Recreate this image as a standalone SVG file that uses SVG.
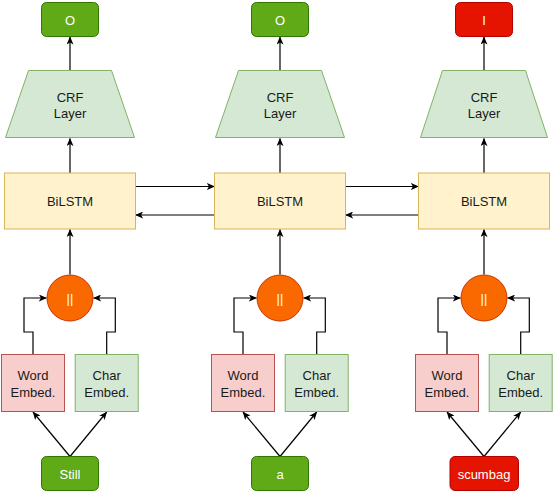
<svg xmlns="http://www.w3.org/2000/svg" width="554" height="492" viewBox="0 0 554 492">
<defs>
<marker id="arr" viewBox="0 0 8 7" markerWidth="8" markerHeight="7" refX="7.6" refY="3.5" orient="auto" markerUnits="userSpaceOnUse">
<path d="M0,0 L8,3.5 L0,7 L2,3.5 z" fill="#000"/>
</marker>
<style>
text{font-family:"Liberation Sans",Arial,Helvetica,sans-serif;font-size:13px;text-anchor:middle;fill:#1a1a1a}
.outg{fill:#60a917;stroke:#2d7600}
.outr{fill:#e51400;stroke:#b20000}
.wt{fill:#ffffff}
.crf{fill:#d5e8d4;stroke:#82b366}
.lstm{fill:#fff2cc;stroke:#d6b656}
.cat{fill:#fa6800;stroke:#c73500}
.word{fill:#f8cecc;stroke:#b85450}
.char{fill:#d5e8d4;stroke:#82b366}
.c{fill:none;stroke:#000;stroke-width:1.2;marker-end:url(#arr)}
</style>
</defs>
<g id="connectors">
<!-- column 1 -->
<path class="c" d="M70,70 L70,37"/>
<path class="c" d="M70,173 L70,138.5"/>
<path class="c" d="M70,274.5 L70,229.5"/>
<path class="c" d="M33,354.5 L33,332 L24,332 L24,298 L46.5,298"/>
<path class="c" d="M106.7,354.5 L106.7,332 L115.3,332 L115.3,298 L93.5,298"/>
<path class="c" d="M70,456.5 L33,412"/>
<path class="c" d="M70,456.5 L106.7,412"/>
<!-- column 2 -->
<path class="c" d="M280,70 L280,37"/>
<path class="c" d="M280,173 L280,138.5"/>
<path class="c" d="M280,274.5 L280,229.5"/>
<path class="c" d="M243,354.5 L243,332 L234,332 L234,298 L256.5,298"/>
<path class="c" d="M316.7,354.5 L316.7,332 L325.3,332 L325.3,298 L303.5,298"/>
<path class="c" d="M280,456.5 L243,412"/>
<path class="c" d="M280,456.5 L316.7,412"/>
<!-- column 3 -->
<path class="c" d="M484,70 L484,37"/>
<path class="c" d="M484,173 L484,138.5"/>
<path class="c" d="M484,274.5 L484,229.5"/>
<path class="c" d="M447,354.5 L447,332 L438,332 L438,298 L460.5,298"/>
<path class="c" d="M520.7,354.5 L520.7,332 L529.3,332 L529.3,298 L507.5,298"/>
<path class="c" d="M484,456.5 L447,412"/>
<path class="c" d="M484,456.5 L520.7,412"/>
<!-- BiLSTM links -->
<path class="c" d="M135.5,186.5 L214.5,186.5"/>
<path class="c" d="M214.5,215 L135.5,215"/>
<path class="c" d="M345.5,186.5 L418.5,186.5"/>
<path class="c" d="M418.5,215 L345.5,215"/>
</g>
<!-- column 1 nodes -->
<g id="out1"><rect class="outg" x="41.5" y="2.5" width="57" height="34" rx="5"/><text class="wt" x="70" y="24.5">O</text></g>
<g id="crf1"><path class="crf" d="M28.5,70.5 L111.5,70.5 L134.5,137.5 L5.5,137.5 Z"/><text x="70" y="101.5">CRF</text><text x="70" y="117.5">Layer</text></g>
<g id="lstm1"><rect class="lstm" x="4.5" y="173" width="131" height="56"/><text x="70" y="206">BiLSTM</text></g>
<g id="cat1"><circle class="cat" cx="70" cy="298" r="23"/><text class="wt" x="70" y="302.5">||</text></g>
<g id="word1"><rect class="word" x="1.5" y="354.5" width="63" height="57"/><text x="33" y="380">Word</text><text x="33" y="396.5">Embed.</text></g>
<g id="char1"><rect class="char" x="75.2" y="354.5" width="63" height="57"/><text x="106.7" y="380">Char</text><text x="106.7" y="396.5">Embed.</text></g>
<g id="in1"><rect class="outg" x="41.5" y="456.5" width="57" height="34" rx="5"/><text class="wt" x="70" y="478.5">Still</text></g>
<!-- column 2 nodes -->
<g id="out2"><rect class="outg" x="251.5" y="2.5" width="57" height="34" rx="5"/><text class="wt" x="280" y="24.5">O</text></g>
<g id="crf2"><path class="crf" d="M238.5,70.5 L321.5,70.5 L344.5,137.5 L215.5,137.5 Z"/><text x="280" y="101.5">CRF</text><text x="280" y="117.5">Layer</text></g>
<g id="lstm2"><rect class="lstm" x="214.5" y="173" width="131" height="56"/><text x="280" y="206">BiLSTM</text></g>
<g id="cat2"><circle class="cat" cx="280" cy="298" r="23"/><text class="wt" x="280" y="302.5">||</text></g>
<g id="word2"><rect class="word" x="211.5" y="354.5" width="63" height="57"/><text x="243" y="380">Word</text><text x="243" y="396.5">Embed.</text></g>
<g id="char2"><rect class="char" x="285.2" y="354.5" width="63" height="57"/><text x="316.7" y="380">Char</text><text x="316.7" y="396.5">Embed.</text></g>
<g id="in2"><rect class="outg" x="251.5" y="456.5" width="57" height="34" rx="5"/><text class="wt" x="280" y="478.5">a</text></g>
<!-- column 3 nodes -->
<g id="out3"><rect class="outr" x="455.5" y="2.5" width="57" height="34" rx="5"/><text class="wt" x="484" y="24.5">I</text></g>
<g id="crf3"><path class="crf" d="M442.5,70.5 L525.5,70.5 L547.5,137.5 L420.5,137.5 Z"/><text x="484" y="101.5">CRF</text><text x="484" y="117.5">Layer</text></g>
<g id="lstm3"><rect class="lstm" x="418.5" y="173" width="131" height="56"/><text x="484" y="206">BiLSTM</text></g>
<g id="cat3"><circle class="cat" cx="484" cy="298" r="23"/><text class="wt" x="484" y="302.5">||</text></g>
<g id="word3"><rect class="word" x="415.5" y="354.5" width="63" height="57"/><text x="447" y="380">Word</text><text x="447" y="396.5">Embed.</text></g>
<g id="char3"><rect class="char" x="489.2" y="354.5" width="63" height="57"/><text x="520.7" y="380">Char</text><text x="520.7" y="396.5">Embed.</text></g>
<g id="in3"><rect class="outr" x="450" y="456.5" width="68.5" height="34" rx="5"/><text class="wt" x="484" y="478.5">scumbag</text></g>
</svg>
